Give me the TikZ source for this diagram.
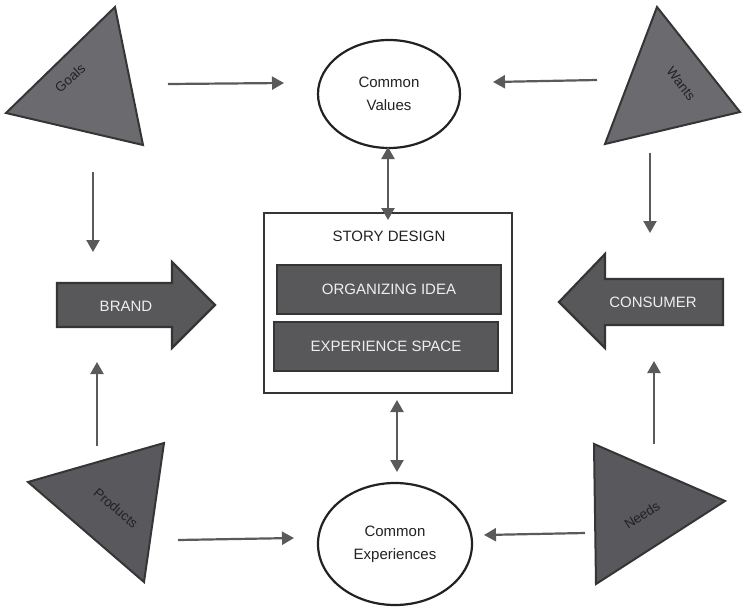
\documentclass[tikz,border=0pt]{standalone}
\usepackage{fontspec}
\setmainfont{Liberation Sans}
\usetikzlibrary{arrows.meta,shapes.geometric}
\definecolor{trilight}{HTML}{6B6B6F}
\definecolor{tridark}{HTML}{59595D}
\definecolor{boxfill}{HTML}{58585A}
\definecolor{edge}{HTML}{353535}
\definecolor{conn}{HTML}{5A5A5A}
\definecolor{txt}{HTML}{222222}
\definecolor{wtxt}{HTML}{EEEEEE}
\tikzset{
  tri/.style={draw=edge, line width=2pt, line join=miter},
  tritext/.style={text=txt, font=\fontsize{13.5}{15}\selectfont},
  bigarrow/.style={draw=edge, fill=boxfill, line width=2.2pt, line join=miter},
  darkbox/.style={draw=edge, fill=boxfill, line width=2.5pt, minimum width=224, minimum height=49, text=wtxt, font=\fontsize{15}{17}\selectfont},
  oval/.style={draw=txt, line width=2.2pt, ellipse, inner sep=0pt, align=center, text=txt, font=\fontsize{15}{23}\selectfont},
  conn/.style={draw=conn, line width=2.2pt, -{Triangle[length=12pt,width=13pt]}},
  conn2/.style={draw=conn, line width=2.2pt, {Triangle[length=12pt,width=13pt]}-{Triangle[length=12pt,width=13pt]}}
}
\begin{document}
\begin{tikzpicture}[x=1pt,y=-1pt]
\useasboundingbox[fill=white] (0,0) rectangle (742,608);

% triangles
\draw[tri, fill=trilight] (115,7) -- (6,113) -- (143,145) -- cycle;
\node[tritext, rotate=42] (goals) at (70,78) {Goals};
\draw[tri, fill=trilight] (657,7) -- (740,112) -- (605,144) -- cycle;
\node[tritext, rotate=-52] (wants) at (681,84) {Wants};
\draw[tri, fill=tridark] (164,443) -- (28,482) -- (144,582) -- cycle;
\node[tritext, rotate=-41] (products) at (116,508) {Products};
\draw[tri, fill=tridark] (594,444) -- (725,501) -- (596,584) -- cycle;
\node[tritext, rotate=33] (needs) at (642,515) {Needs};

% ellipses
\node[oval, minimum width=142, minimum height=108] (cv) at (389,94) {Common\\Values};
\node[oval, minimum width=154, minimum height=122] (ce) at (395,544) {Common\\Experiences};

% story design
\node[draw=edge, line width=2.5pt, minimum width=248, minimum height=180] (sd) at (388,303) {};
\node[text=txt, font=\fontsize{15}{17}\selectfont] (sdt) at (389,236) {STORY DESIGN};
\node[darkbox] (oi) at (389,289.5) {ORGANIZING IDEA};
\node[darkbox] (es) at (386,346.5) {EXPERIENCE SPACE};

% big arrows
\draw[bigarrow] (57,283) -- (172,283) -- (172,262) -- (215,305) -- (172,348) -- (172,327) -- (57,327) -- cycle;
\node[text=wtxt, font=\fontsize{15}{17}\selectfont] (brand) at (126,306) {BRAND};
\draw[bigarrow] (723,279) -- (605,279) -- (605,254) -- (559,302) -- (605,348) -- (605,325) -- (723,325) -- cycle;
\node[text=wtxt, font=\fontsize{15}{17}\selectfont] (consumer) at (653,302) {CONSUMER};

% connector endpoints
\coordinate (g1) at (168,84); \coordinate (g2) at (284,83);
\coordinate (w1) at (597,80); \coordinate (w2) at (493,82);
\coordinate (v1) at (388,147); \coordinate (v2) at (388,220);
\coordinate (gb1) at (93,172); \coordinate (gb2) at (93,252);
\coordinate (wc1) at (650,153); \coordinate (wc2) at (650,233);
\coordinate (pb1) at (97,446); \coordinate (pb2) at (97,362);
\coordinate (nc1) at (654,444); \coordinate (nc2) at (654,361);
\coordinate (e1) at (397,400); \coordinate (e2) at (397,472);
\coordinate (p1) at (178,540); \coordinate (p2) at (294,538);
\coordinate (n1) at (585,533); \coordinate (n2) at (484,535);

\draw[conn] (g1) -- (g2);
\draw[conn] (w1) -- (w2);
\draw[conn2] (v1) -- (v2);
\draw[conn] (gb1) -- (gb2);
\draw[conn] (wc1) -- (wc2);
\draw[conn] (pb1) -- (pb2);
\draw[conn] (nc1) -- (nc2);
\draw[conn2] (e1) -- (e2);
\draw[conn] (p1) -- (p2);
\draw[conn] (n1) -- (n2);
\end{tikzpicture}
\end{document}
